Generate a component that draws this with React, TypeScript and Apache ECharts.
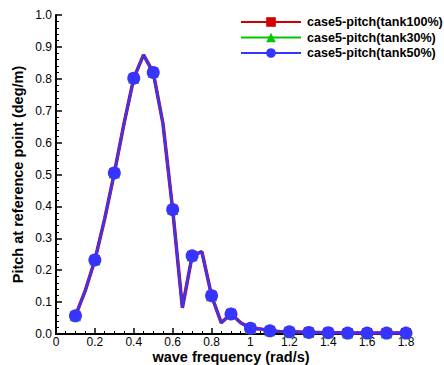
import React, { useEffect, useRef } from "react";
import * as echarts from "echarts";

const freq = [0.1,0.15,0.2,0.25,0.3,0.35,0.4,0.45,0.5,0.55,0.6,0.65,0.7,0.75,0.8,0.85,0.9,0.95,1.0,1.05,1.1,1.15,1.2,1.25,1.3,1.35,1.4,1.45,1.5,1.55,1.6,1.65,1.7,1.75,1.8];
const tank100 = [0.057,0.135,0.232,0.36,0.505,0.66,0.802,0.875,0.82,0.66,0.39,0.082,0.245,0.258,0.12,0.035,0.063,0.035,0.018,0.016,0.010,0.008,0.007,0.006,0.005,0.005,0.004,0.004,0.003,0.003,0.003,0.003,0.003,0.003,0.003];
const tank30 = [0.057,0.135,0.232,0.36,0.505,0.66,0.802,0.875,0.82,0.66,0.39,0.082,0.245,0.258,0.12,0.035,0.063,0.035,0.018,0.016,0.010,0.008,0.007,0.006,0.005,0.005,0.004,0.004,0.003,0.003,0.003,0.003,0.003,0.003,0.003];
const tank50 = [0.057,0.135,0.232,0.36,0.505,0.66,0.802,0.875,0.82,0.66,0.39,0.082,0.245,0.258,0.12,0.035,0.063,0.035,0.018,0.016,0.010,0.008,0.007,0.006,0.005,0.005,0.004,0.004,0.003,0.003,0.003,0.003,0.003,0.003,0.003];
const seriesNames = ["case5-pitch(tank100%)", "case5-pitch(tank30%)", "case5-pitch(tank50%)"];

const FONT = "Arial, 'Liberation Sans', sans-serif";

function buildData(vals: number[]) {
  return freq.map((f, i) => {
    const onMarker = Math.round(f * 100) % 10 === 0;
    return onMarker ? [f, vals[i]] : { value: [f, vals[i]], symbol: "none" };
  });
}

export default function App() {
  const ref = useRef<HTMLDivElement>(null);
  useEffect(() => {
    if (!ref.current) return;
    const chart = echarts.init(ref.current, undefined, { renderer: "svg" });
    const mk = (name: string, vals: number[], color: string, width: number, symbol: string, size: number, z: number) => ({
      name,
      type: "line",
      data: buildData(vals),
      symbol,
      symbolSize: size,
      showAllSymbol: true,
      z,
      lineStyle: { color, width },
      itemStyle: { color, borderWidth: 0 },
    });
    chart.setOption({
      animation: false,
      backgroundColor: "#ffffff",
      grid: { left: 56, right: 38, top: 15, bottom: 31, containLabel: false, outerBoundsMode: "none" },
      legend: {
        orient: "vertical",
        left: 240,
        top: 15,
        padding: 0,
        itemWidth: 60,
        itemHeight: 12,
        itemGap: 1.5,
        textStyle: { fontFamily: FONT, fontWeight: "bold", fontSize: 12.6, lineHeight: 14, color: "#000", padding: [0, 0, 0, 1] },
        data: seriesNames,
      },
      xAxis: {
        type: "value",
        min: 0,
        max: 1.8,
        interval: 0.2,
        name: "wave frequency (rad/s)",
        nameLocation: "middle",
        nameGap: 15,
        nameMoveOverlap: false,
        nameTextStyle: { fontFamily: FONT, fontWeight: "bold", fontSize: 14.5, color: "#000", lineHeight: 15 },
        axisLine: { show: true, lineStyle: { color: "#000", width: 2 } },
        axisTick: { show: true, inside: true, length: 6, lineStyle: { color: "#000", width: 1.5 } },
        minorTick: { show: true, splitNumber: 4, length: 3, lineStyle: { color: "#000", width: 1 } },
        splitLine: { show: false },
        axisLabel: { fontFamily: FONT, fontSize: 12, color: "#000", margin: 2, lineHeight: 12 },
      },
      yAxis: {
        type: "value",
        min: 0,
        max: 1,
        interval: 0.1,
        name: "Pitch at reference point (deg/m)",
        nameLocation: "middle",
        nameGap: 31,
        nameMoveOverlap: false,
        nameTextStyle: { fontFamily: FONT, fontWeight: "bold", fontSize: 14.5, color: "#000" },
        axisLine: { show: true, lineStyle: { color: "#000", width: 2 } },
        axisTick: { show: true, inside: true, length: 6, lineStyle: { color: "#000", width: 1.5 } },
        minorTick: { show: true, splitNumber: 5, length: 3, lineStyle: { color: "#000", width: 1 } },
        splitLine: { show: false },
        axisLabel: { fontFamily: FONT, fontSize: 12, color: "#000", margin: 4, formatter: (v: number) => v.toFixed(1) },
      },
      series: [
        mk(seriesNames[0], tank100, "#d00000", 3.5, "rect", 10, 2),
        mk(seriesNames[1], tank30, "#00c800", 1.5, "triangle", 11, 3),
        mk(seriesNames[2], tank50, "#3535ff", 2.5, "circle", 13, 4),
      ],
    });
    return () => chart.dispose();
  }, []);
  return <div ref={ref} style={{ position: "absolute", left: 0, top: 0, width: 444, height: 365 }} />;
}
